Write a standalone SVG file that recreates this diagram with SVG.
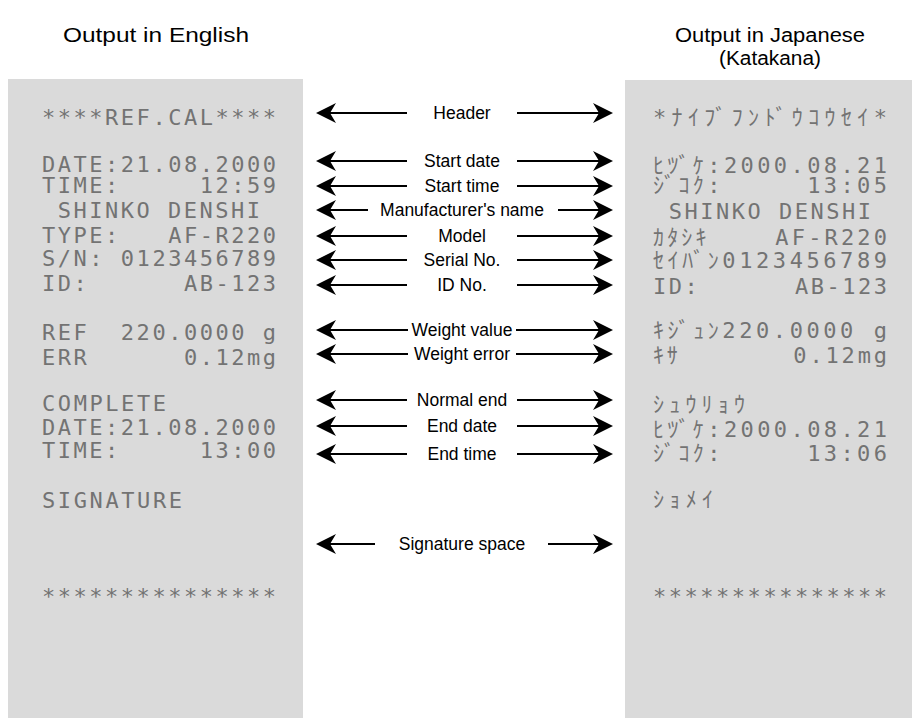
<svg xmlns="http://www.w3.org/2000/svg" width="914" height="718" viewBox="0 0 914 718">
<style>
.title{font-family:"Liberation Sans",Arial,sans-serif;font-size:20px;fill:#000;text-anchor:middle}
.lbl{font-family:"Liberation Sans",Arial,sans-serif;font-size:17.5px;fill:#000;text-anchor:middle}
.paper{fill:#dadada}
.pt{font-family:"DejaVu Sans Mono","Noto Sans CJK JP",monospace;font-size:22px;fill:#737373;white-space:pre}
.ar{stroke:#000;stroke-width:2;fill:none;marker-end:url(#ah)}
</style>
<defs>
<marker id="ah" markerUnits="userSpaceOnUse" markerWidth="30" markerHeight="30" viewBox="-10 -15 30 30" refX="0" refY="0" orient="auto" overflow="visible">
<path d="M14,0 L-6,-10 L0,0 L-6,10 Z" fill="#000"/>
</marker>
</defs>
<g id="title-en"><text class="title" x="156" y="42" textLength="186" lengthAdjust="spacingAndGlyphs">Output in English</text></g>
<g id="title-jp"><text class="title" x="770" y="42" textLength="190" lengthAdjust="spacingAndGlyphs">Output in Japanese</text><text class="title" x="770" y="65" textLength="102" lengthAdjust="spacingAndGlyphs">(Katakana)</text></g>
<g id="paper-en">
<rect class="paper" x="8" y="79" width="295" height="639"/>
<text class="pt" x="42" y="125" textLength="234" lengthAdjust="spacing">****REF.CAL****</text>
<text class="pt" x="42" y="172" textLength="234" lengthAdjust="spacing">DATE:21.08.2000</text>
<text class="pt" x="42" y="193" textLength="234" lengthAdjust="spacing">TIME:     12:59</text>
<text class="pt" x="42" y="218" textLength="218" lengthAdjust="spacing"> SHINKO DENSHI</text>
<text class="pt" x="42" y="243" textLength="234" lengthAdjust="spacing">TYPE:   AF-R220</text>
<text class="pt" x="42" y="266" textLength="234" lengthAdjust="spacing">S/N: 0123456789</text>
<text class="pt" x="42" y="291" textLength="234" lengthAdjust="spacing">ID:      AB-123</text>
<text class="pt" x="42" y="340" textLength="234" lengthAdjust="spacing">REF  220.0000 g</text>
<text class="pt" x="42" y="365" textLength="234" lengthAdjust="spacing">ERR      0.12mg</text>
<text class="pt" x="42" y="411" textLength="124" lengthAdjust="spacing">COMPLETE</text>
<text class="pt" x="42" y="435" textLength="234" lengthAdjust="spacing">DATE:21.08.2000</text>
<text class="pt" x="42" y="458" textLength="234" lengthAdjust="spacing">TIME:     13:00</text>
<text class="pt" x="42" y="508" textLength="140" lengthAdjust="spacing">SIGNATURE</text>
<text class="pt" x="42" y="604" textLength="234" lengthAdjust="spacing">***************</text>
</g>
<g id="paper-jp">
<rect class="paper" x="625" y="80" width="287" height="638"/>
<text class="pt" x="653" y="125" textLength="234" lengthAdjust="spacing">*ﾅｲﾌﾞﾌﾝﾄﾞｳｺｳｾｲ*</text>
<text class="pt" x="653" y="173" textLength="234" lengthAdjust="spacing">ﾋﾂﾞｹ:2000.08.21</text>
<text class="pt" x="653" y="193" textLength="234" lengthAdjust="spacing">ｼﾞｺｸ:     13:05</text>
<text class="pt" x="653" y="219" textLength="218" lengthAdjust="spacing"> SHINKO DENSHI</text>
<text class="pt" x="653" y="245" textLength="234" lengthAdjust="spacing">ｶﾀｼｷ    AF-R220</text>
<text class="pt" x="653" y="268" textLength="234" lengthAdjust="spacing">ｾｲﾊﾞﾝ0123456789</text>
<text class="pt" x="653" y="294" textLength="234" lengthAdjust="spacing">ID:      AB-123</text>
<text class="pt" x="653" y="338" textLength="234" lengthAdjust="spacing">ｷｼﾞｭﾝ220.0000 g</text>
<text class="pt" x="653" y="363" textLength="234" lengthAdjust="spacing">ｷｻ       0.12mg</text>
<text class="pt" x="653" y="412" textLength="92" lengthAdjust="spacing">ｼｭｳﾘｮｳ</text>
<text class="pt" x="653" y="437" textLength="234" lengthAdjust="spacing">ﾋﾂﾞｹ:2000.08.21</text>
<text class="pt" x="653" y="461" textLength="234" lengthAdjust="spacing">ｼﾞｺｸ:     13:06</text>
<text class="pt" x="653" y="507" textLength="60" lengthAdjust="spacing">ｼｮﾒｲ</text>
<text class="pt" x="653" y="604" textLength="234" lengthAdjust="spacing">***************</text>
</g>
<g id="label-header"><text class="lbl" x="462" y="119">Header</text></g>
<g id="label-start-date"><text class="lbl" x="462" y="167">Start date</text></g>
<g id="label-start-time"><text class="lbl" x="462" y="192">Start time</text></g>
<g id="label-manufacturer"><text class="lbl" x="462" y="216">Manufacturer's name</text></g>
<g id="label-model"><text class="lbl" x="462" y="242">Model</text></g>
<g id="label-serial"><text class="lbl" x="462" y="266">Serial No.</text></g>
<g id="label-id"><text class="lbl" x="462" y="291">ID No.</text></g>
<g id="label-weight-value"><text class="lbl" x="462" y="336">Weight value</text></g>
<g id="label-weight-error"><text class="lbl" x="462" y="360">Weight error</text></g>
<g id="label-normal-end"><text class="lbl" x="462" y="406">Normal end</text></g>
<g id="label-end-date"><text class="lbl" x="462" y="432">End date</text></g>
<g id="label-end-time"><text class="lbl" x="462" y="460">End time</text></g>
<g id="label-signature"><text class="lbl" x="462" y="550">Signature space</text></g>
<g id="connectors">
<line class="ar" x1="407" y1="113" x2="330" y2="113"/><line class="ar" x1="517" y1="113" x2="599" y2="113"/>
<line class="ar" x1="407" y1="161" x2="330" y2="161"/><line class="ar" x1="517" y1="161" x2="599" y2="161"/>
<line class="ar" x1="407" y1="186" x2="330" y2="186"/><line class="ar" x1="517" y1="186" x2="599" y2="186"/>
<line class="ar" x1="368" y1="210" x2="330" y2="210"/><line class="ar" x1="558" y1="210" x2="599" y2="210"/>
<line class="ar" x1="407" y1="236" x2="330" y2="236"/><line class="ar" x1="517" y1="236" x2="599" y2="236"/>
<line class="ar" x1="407" y1="260" x2="330" y2="260"/><line class="ar" x1="517" y1="260" x2="599" y2="260"/>
<line class="ar" x1="407" y1="285" x2="330" y2="285"/><line class="ar" x1="517" y1="285" x2="599" y2="285"/>
<line class="ar" x1="408" y1="330" x2="330" y2="330"/><line class="ar" x1="516" y1="330" x2="599" y2="330"/>
<line class="ar" x1="408" y1="354" x2="330" y2="354"/><line class="ar" x1="516" y1="354" x2="599" y2="354"/>
<line class="ar" x1="407" y1="400" x2="330" y2="400"/><line class="ar" x1="517" y1="400" x2="599" y2="400"/>
<line class="ar" x1="407" y1="426" x2="330" y2="426"/><line class="ar" x1="517" y1="426" x2="599" y2="426"/>
<line class="ar" x1="407" y1="454" x2="330" y2="454"/><line class="ar" x1="517" y1="454" x2="599" y2="454"/>
<line class="ar" x1="375" y1="544" x2="330" y2="544"/><line class="ar" x1="548" y1="544" x2="599" y2="544"/>
</g>
</svg>
